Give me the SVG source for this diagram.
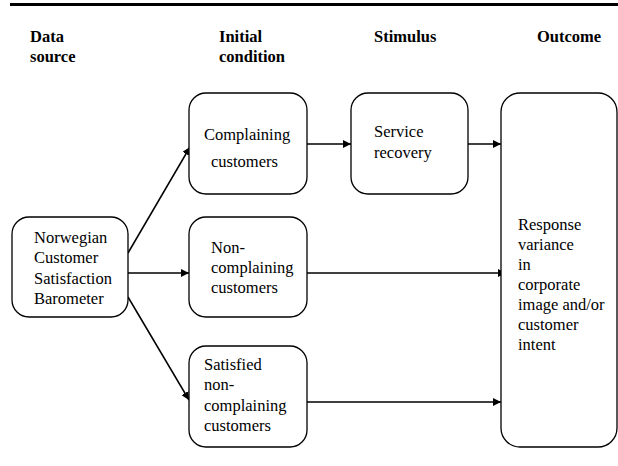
<svg xmlns="http://www.w3.org/2000/svg" width="618" height="466" viewBox="0 0 618 466">
<style>
.box{fill:#fff;stroke:#000;stroke-width:1.3}
.c{stroke:#000;stroke-width:1.5;fill:none;marker-end:url(#ah)}
</style>
<defs>
<marker id="ah" viewBox="0 0 10 10" refX="10" refY="5" markerWidth="8" markerHeight="8" markerUnits="userSpaceOnUse" orient="auto">
<path d="M0,0 L10,5 L0,10 z" fill="#000"/>
</marker>
</defs>
<rect width="618" height="466" fill="#fff"/>
<line x1="10" y1="4.5" x2="618" y2="4.5" stroke="#000" stroke-width="3"/>
<g font-family="Liberation Serif, Times New Roman, Times, Tinos, DejaVu Serif, serif" font-size="16.5" fill="#000">
<g id="headers" font-weight="bold">
<text x="30" y="42">Data</text>
<text x="30" y="62">source</text>
<text x="219" y="42">Initial</text>
<text x="219" y="62">condition</text>
<text x="374" y="42">Stimulus</text>
<text x="537" y="42">Outcome</text>
</g>
<g id="connectors">
<line class="c" x1="307" y1="144" x2="351" y2="144"/>
<line class="c" x1="468" y1="144" x2="501" y2="144"/>
<line class="c" x1="128" y1="253" x2="190" y2="147"/>
<line class="c" x1="128" y1="273" x2="189" y2="273"/>
<line class="c" x1="128" y1="297" x2="189" y2="400"/>
<line class="c" x1="307" y1="273" x2="506" y2="273"/>
<line class="c" x1="307" y1="402" x2="501" y2="402"/>
</g>
<g id="norwegian">
<rect class="box" x="12" y="217" width="116" height="100" rx="17"/>
<text x="34" y="243">Norwegian</text>
<text x="34" y="263">Customer</text>
<text x="34" y="284">Satisfaction</text>
<text x="34" y="304">Barometer</text>
</g>
<g id="complaining">
<rect class="box" x="189" y="93" width="118" height="101" rx="17"/>
<text x="204" y="140">Complaining</text>
<text x="211" y="167">customers</text>
</g>
<g id="noncomplaining">
<rect class="box" x="189" y="217" width="118" height="100" rx="17"/>
<text x="211" y="253">Non-</text>
<text x="211" y="273">complaining</text>
<text x="211" y="293">customers</text>
</g>
<g id="satisfied">
<rect class="box" x="189" y="346" width="118" height="101" rx="17"/>
<text x="204" y="370">Satisfied</text>
<text x="204" y="390">non-</text>
<text x="204" y="411">complaining</text>
<text x="204" y="431">customers</text>
</g>
<g id="service">
<rect class="box" x="351" y="93" width="117" height="101" rx="17"/>
<text x="374" y="137">Service</text>
<text x="374" y="158">recovery</text>
</g>
<g id="outcome">
<rect class="box" x="501" y="93" width="116" height="354" rx="19"/>
<text x="518" y="230">Response</text>
<text x="518" y="250">variance</text>
<text x="518" y="270">in</text>
<text x="518" y="290">corporate</text>
<text x="518" y="310">image and/or</text>
<text x="518" y="330">customer</text>
<text x="518" y="350">intent</text>
</g>
</g>
</svg>
